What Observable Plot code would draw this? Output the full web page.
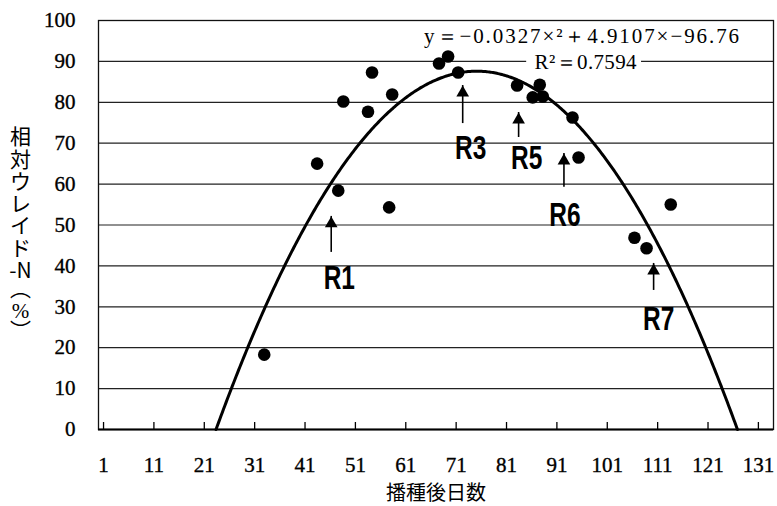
<!DOCTYPE html>
<html><head><meta charset="utf-8">
<script src="https://cdn.jsdelivr.net/npm/d3@7"></script>
<script src="https://cdn.jsdelivr.net/npm/@observablehq/plot@0.6"></script>
<style>
body{margin:0;background:#fff;}
</style></head><body><div id="chart"></div>
<script>
// measured points: days after sowing vs relative ureide-N (%)
const days   = [32.9,43.4,47.6,48.6,53.5,54.3,57.7,58.3,67.6,69.4,71.4,83.1,87.6,86.2,88.2,94.1,95.3,113.6,106.4,108.8];
const ureide = [18.3,65.0,58.4,80.2,77.7,87.3,54.3,81.9,89.5,91.2,87.3,84.1,84.3,81.2,81.4,76.3,66.5,55.0,46.9,44.3];
// trendline coefficients as printed on the chart: y = a x^2 + b x + c
const trendCoef = [-0.0327, 4.9107, -96.76];
const equationText = "y＝−0.0327×²＋4.9107×−96.76";
const r2Text = "R²＝0.7594";
// annotations (in data units)
const labelNames = ["R1","R3","R5","R6","R7"];
const arrowX    = [46.2,72.3,83.4,92.4,110.2];
const arrowTip  = [52.1,84.1,77.5,67.5,40.6];
const arrowBase = [43.3,74.8,71.4,59.2,34.0];
const labelX    = [47.8,73.9,85.0,92.6,111.2];
const labelY    = [37.0,68.7,66.3,52.3,27.0];
// axes
const xTicks = [1,11,21,31,41,51,61,71,81,91,101,111,121,131];
const yTicks = [0,10,20,30,40,50,60,70,80,90,100];
const xTitle = "播種後日数";
const yTitleMain = ["相","対","ウ","レ","イ","ド","-N"];
const yTitleUnit = ["︵","%","︶"];

const points = days.map((d,i)=>({day:d, v:ureide[i]}));
const [a,b,c] = trendCoef;
const disc = Math.sqrt(b*b-4*a*c);
const r1 = (-b+disc)/(2*a), r2 = (-b-disc)/(2*a);
const lo = Math.min(r1,r2), hi = Math.max(r1,r2);
const curve = d3.range(lo, hi, 0.25).concat([hi]).map(x=>({x, y:a*x*x+b*x+c}));
const ann = labelNames.map((n,i)=>({n, x:arrowX[i], tip:arrowTip[i], base:arrowBase[i], lx:labelX[i], ly:labelY[i]}));

const serif = "'Liberation Serif','Times New Roman',serif";
const sansB = "'Liberation Sans',Arial,sans-serif";
const cjk = "'Noto Sans CJK JP','Noto Sans CJK SC',sans-serif";

const chart = Plot.plot({
  width: 777, height: 506,
  marginLeft: 98, marginRight: 4, marginTop: 20, marginBottom: 77,
  style: {fontFamily: serif, fontSize: "20px", background: "white", color: "black", overflow: "visible"},
  x: {domain: [0, 134]},
  y: {domain: [0, 100]},
  marks: [
    Plot.ruleY(yTicks.filter(d=>d>0 && d<100), {stroke: "#222", strokeWidth: 1.2}),
    Plot.frame({stroke: "#111", strokeWidth: 1.3}),
    Plot.ruleY([0], {stroke: "#000", strokeWidth: 2.2}),
    Plot.tickX(xTicks, {x: d=>d, stroke: "#000", strokeWidth: 1.3, insetTop: 402}),
    Plot.axisY({ticks: yTicks, tickSize: 0, tickPadding: 23, fontSize: 21, label: null}),
    Plot.axisX({ticks: xTicks, tickSize: 0, tickPadding: 28, fontSize: 21, label: null, tickFormat: d=>String(d)}),
    Plot.text([xTitle], {frameAnchor: "bottom", dy: 70, fontSize: 20, fontFamily: cjk, text: d=>d}),
    Plot.text([yTitleMain.join("\n")], {frameAnchor: "left", textAnchor: "middle", dx: -78, dy: -21, lineHeight: 1.06, fontSize: 21, fontFamily: cjk, text: d=>d}),
    Plot.text([yTitleUnit[0]], {frameAnchor: "left", textAnchor: "middle", dx: -78, dy: 64, fontSize: 21, fontFamily: cjk, text: d=>d}),
    Plot.text([yTitleUnit[1]], {frameAnchor: "left", textAnchor: "middle", dx: -78, dy: 86, fontSize: 21, fontFamily: serif, text: d=>d}),
    Plot.text([yTitleUnit[2]], {frameAnchor: "left", textAnchor: "middle", dx: -78, dy: 106, fontSize: 21, fontFamily: cjk, text: d=>d}),
    Plot.line(curve, {x: "x", y: "y", stroke: "#000", strokeWidth: 3, curve: "linear"}),
    Plot.dot(points, {x: "day", y: "v", r: 6.3, fill: "#000", stroke: "none"}),
    Plot.ruleX(ann, {x: "x", y1: "base", y2: "tip", stroke: "#000", strokeWidth: 1.6}),
    Plot.dot(ann, {x: "x", y: "tip", symbol: "triangle", r: 4.7, fill: "#000", stroke: "none", dy: 7.3}),
    Plot.text(ann, {x: "lx", y: "ly", text: "n", fontSize: 34, fontWeight: "bold", fontFamily: sansB}),
    Plot.rect([0], {x1: 85.0, x2: 107.8, y1: 88.4, y2: 91.6, fill: "white"}),
    Plot.text([equationText], {x: 95.9, y: 96.1, text: d=>d, fontSize: 21, fontFamily: serif}),
    Plot.text([r2Text], {x: 96.7, y: 89.7, text: d=>d, fontSize: 21, fontFamily: serif, fill: "black"})
  ]
});
document.getElementById("chart").appendChild(chart);

// typographic touches
const svg = d3.select(chart);
svg.selectAll('g[aria-label$="tick label"]').attr("font-family", serif).attr("stroke", "black").attr("stroke-width", 0.35);
svg.selectAll("text").each(function(){
  const t = this.textContent;
  const el = d3.select(this);
  if (labelNames.includes(t)) {
    el.attr("transform", (el.attr("transform")||"") + " scale(0.72,1)");
  } else if (t === equationText) {
    el.attr("textLength", 315).attr("lengthAdjust", "spacing");
  } else if (t === r2Text) {
    el.attr("textLength", 102).attr("lengthAdjust", "spacing");
  }
});
</script>
</body></html>
